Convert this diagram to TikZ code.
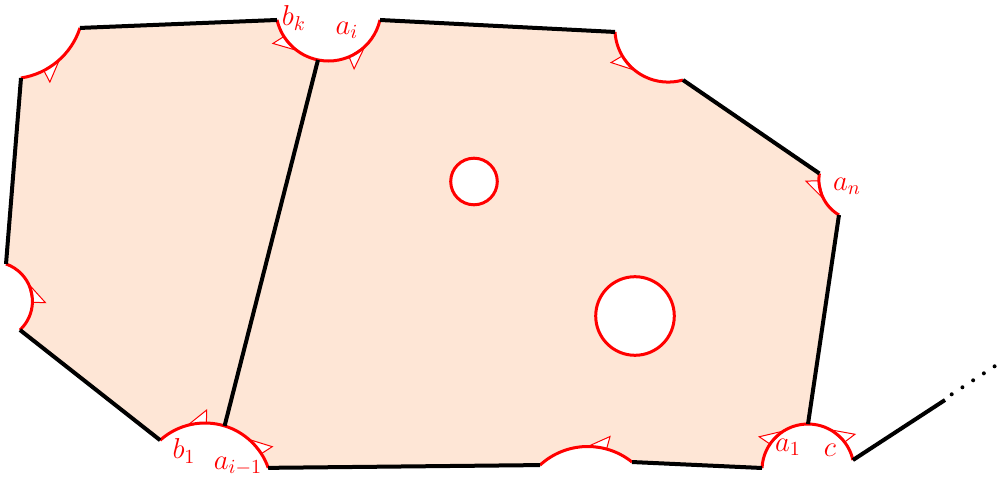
\documentclass[tikz,border=0pt]{standalone}
\usetikzlibrary{calc}
\definecolor{peach}{RGB}{254,230,214}
\newcommand\harrow[4]{%
  \coordinate (hT) at ($(#1)+(#3:#2)$);
  \coordinate (hB) at ($(#1)+(#4:#2)$);
  \draw[red,fill=white,line width=0.5pt] (hT) -- ($(hB)!-6.5pt!(#1)$) -- (hB) -- cycle;}
\begin{document}
\begin{tikzpicture}[x=0.5pt,y=-0.5pt,
  blk/.style={line width=2pt,black},
  redline/.style={line width=1.5pt,red},
  lab/.style={red,font=\Large,inner sep=0pt},
  leftregion/.style={insert path={(A1e) -- (P2) arc[start angle=167.1,end angle=101.5,radius=52.8] -- (J2) arc[start angle=-73,end angle=-132,radius=67] -- (A2e) arc[start angle=46.9,end angle=-70.8,radius=39.4] -- (A1s) arc[start angle=81.4,end angle=18,radius=73.6] -- cycle}},
  rightregion/.style={insert path={(J1) arc[start angle=101.5,end angle=12.9,radius=52.8] -- (A3s) arc[start angle=176.6,end angle=73.9,radius=53.3] -- (A4s) arc[start angle=188.9,end angle=120.6,radius=40.9] -- (T5) arc[start angle=-90,end angle=-177.5,radius=46] -- (A6e) arc[start angle=-51.3,end angle=-132.5,radius=70.7] -- (B2) arc[start angle=-19.3,end angle=-73,radius=67] -- cycle}}
]
\useasboundingbox (0,0) rectangle (1007,481);
% circle centres
\coordinate (C1) at (10,5.2);
\coordinate (C2) at (-6.95,301.2);
\coordinate (C3) at (668.2,28.8);
\coordinate (C4) at (859.8,179.8);
\coordinate (C5) at (808,470);
\coordinate (C6) at (587.8,517.2);
\coordinate (C7) at (328.5,8.2);
\coordinate (C8) at (205,490);
% arc end points
\coordinate (A1s) at ($(C1)+(81.4:73.6)$);
\coordinate (A1e) at ($(C1)+(18:73.6)$);
\coordinate (A2s) at ($(C2)+(-70.8:39.4)$);
\coordinate (A2e) at ($(C2)+(46.9:39.4)$);
\coordinate (A3s) at ($(C3)+(176.6:53.3)$);
\coordinate (A3e) at ($(C3)+(73.9:53.3)$);
\coordinate (A4s) at ($(C4)+(188.9:40.9)$);
\coordinate (A4e) at ($(C4)+(120.6:40.9)$);
\coordinate (T5) at ($(C5)+(-90:46)$);
\coordinate (L5) at ($(C5)+(-177.5:46)$);
\coordinate (R5) at ($(C5)+(-12.5:46)$);
\coordinate (A6s) at ($(C6)+(-132.5:70.7)$);
\coordinate (A6e) at ($(C6)+(-51.3:70.7)$);
\coordinate (P2) at ($(C7)+(167.1:52.8)$);
\coordinate (J1) at ($(C7)+(101.5:52.8)$);
\coordinate (Q) at ($(C7)+(12.9:52.8)$);
\coordinate (B1) at ($(C8)+(-132:67)$);
\coordinate (J2) at ($(C8)+(-73:67)$);
\coordinate (B2) at ($(C8)+(-19.3:67)$);
\coordinate (X1) at (945,400);
\coordinate (D1) at (951.7,394.3);
\coordinate (D2) at (995.5,365.7);
\coordinate (H1) at (474,181.5);
\coordinate (H2) at (635,316);

% shaded faces
\fill[peach,leftregion];
\fill[peach,rightregion];

% half arrow heads on the convex side of each arc
\harrow{C1}{73.6}{47.8}{62.6}
\harrow{C2}{39.4}{-26}{1.6}
\harrow{C7}{52.8}{127}{147.6}
\harrow{C8}{67}{-105}{-88.8}
\harrow{C3}{53.3}{129}{149.4}
\harrow{C4}{40.9}{152}{178.6}
\harrow{C5}{46}{-122}{-145.7}
\harrow{C6}{70.7}{-90}{-74.6}
\harrow{C7}{52.8}{46.5}{67.1}
\harrow{C8}{67}{-49}{-32.8}
\harrow{C5}{46}{-61}{-37.3}

% holes
\draw[redline,fill=white] (H1) circle[radius=23.3];
\draw[redline,fill=white] (H2) circle[radius=39.3];

% red arcs
\draw[redline] (A1s) arc[start angle=81.4,end angle=18,radius=73.6];
\draw[redline] (A2e) arc[start angle=46.9,end angle=-70.8,radius=39.4];
\draw[redline] (P2) arc[start angle=167.1,end angle=101.5,radius=52.8] arc[start angle=101.5,end angle=12.9,radius=52.8];
\draw[redline] (B2) arc[start angle=-19.3,end angle=-73,radius=67] arc[start angle=-73,end angle=-132,radius=67];
\draw[redline] (A3s) arc[start angle=176.6,end angle=73.9,radius=53.3];
\draw[redline] (A4s) arc[start angle=188.9,end angle=120.6,radius=40.9];
\draw[redline] (L5) arc[start angle=-177.5,end angle=-12.5,radius=46];
\draw[redline] (A6e) arc[start angle=-51.3,end angle=-132.5,radius=70.7];

% black edges
\draw[blk] (A1e) -- (P2);
\draw[blk] (Q) -- (A3s);
\draw[blk] (A3e) -- (A4s);
\draw[blk] (A4e) -- (T5);
\draw[blk] (L5) -- (A6e);
\draw[blk] (A6s) -- (B2);
\draw[blk] (B1) -- (A2e);
\draw[blk] (A2s) -- (A1s);
\draw[blk] (J1) -- (J2);
\draw[blk] (R5) -- (X1);
\draw[blk,line cap=round,dash pattern=on 0pt off 6.4pt] (D1) -- (D2);

% labels
\node[lab] (lbk) at (294,18) {$b_k$};
\node[lab] (lai) at (347,30) {$a_i$};
\node[lab] (lan) at (847,186) {$a_n$};
\node[lab] (lb1) at (184,451) {$b_1$};
\node[lab] (laim) at (238,466) {$a_{i-1}$};
\node[lab] (la1) at (788,447) {$a_1$};
\node[lab] (lc) at (830,450) {$c$};
\end{tikzpicture}
\end{document}
